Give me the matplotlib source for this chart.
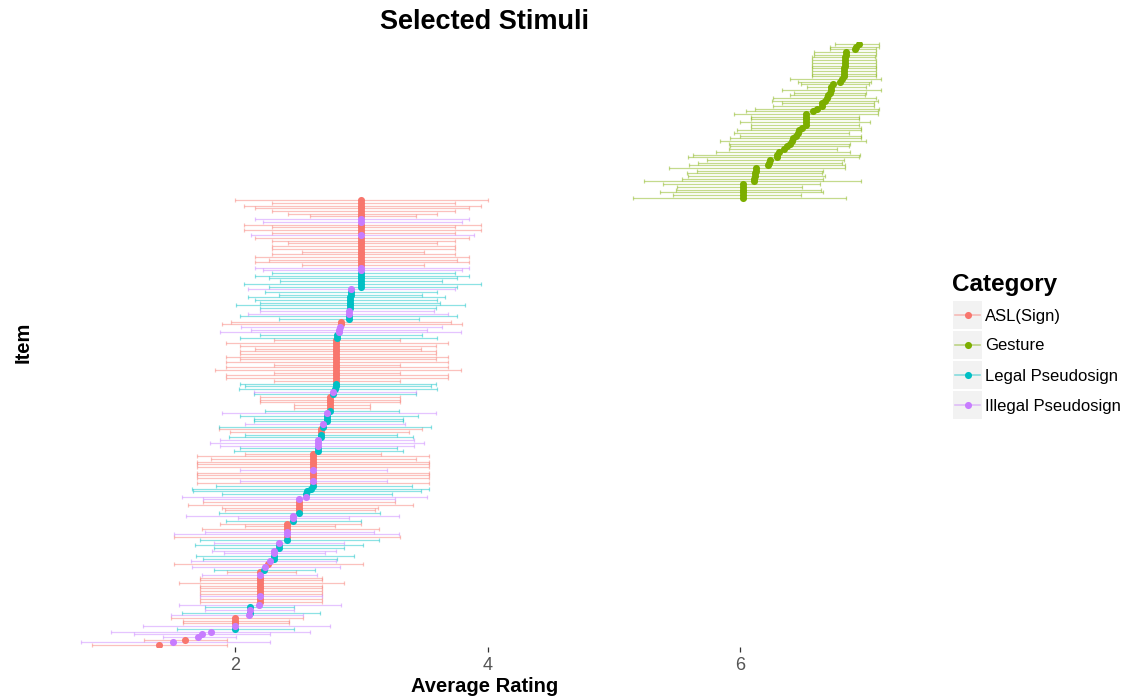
import numpy as np
import matplotlib
matplotlib.use("Agg")
import matplotlib.pyplot as plt
from matplotlib.patches import Rectangle

plt.rcParams['font.family'] = ['Liberation Sans', 'DejaVu Sans']

# category colours (ggplot default hue palette)
colors = {"A": "#F8766D", "G": "#7CAE00", "L": "#00BFC4", "I": "#C77CFF"}
legend_codes = ["A", "G", "L", "I"]
legend_labels = ["ASL(Sign)", "Gesture", "Legal Pseudosign", "Illegal Pseudosign"]

# gesture items, listed from the top of the chart downwards
gesture_mean = [6.94, 6.92, 6.91, 6.84, 6.84, 6.83, 6.83, 6.83, 6.83, 6.82,
                6.82, 6.82, 6.82, 6.81, 6.79, 6.74, 6.72, 6.72, 6.71, 6.70,
                6.69, 6.67, 6.65, 6.65, 6.61, 6.58, 6.52, 6.52, 6.52, 6.52,
                6.52, 6.49, 6.47, 6.46, 6.44, 6.42, 6.41, 6.40, 6.37, 6.35,
                6.31, 6.29, 6.29, 6.24, 6.23, 6.22, 6.13, 6.13, 6.12, 6.12,
                6.11, 6.11, 6.02, 6.02, 6.02, 6.02, 6.02, 6.02]
gesture_lo = [6.75, 6.71, 6.71, 6.59, 6.59, 6.57, 6.57, 6.57, 6.57, 6.57,
              6.57, 6.57, 6.57, 6.40, 6.46, 6.48, 6.53, 6.33, 6.43, 6.40,
              6.26, 6.25, 6.33, 6.26, 6.12, 6.05, 5.95, 6.09, 6.09, 6.00,
              6.09, 6.09, 5.98, 5.95, 6.00, 5.92, 5.84, 5.91, 5.92, 5.91,
              5.81, 5.63, 5.59, 5.74, 5.67, 5.60, 5.44, 5.66, 5.58, 5.59,
              5.54, 5.24, 5.39, 5.50, 5.49, 5.37, 5.47, 5.15]
gesture_hi = [7.10, 7.10, 7.08, 7.08, 7.08, 7.07, 7.08, 7.08, 7.08, 7.08,
              7.08, 7.08, 7.08, 7.12, 7.04, 7.02, 7.00, 7.12, 7.00, 6.99,
              7.08, 7.09, 7.06, 7.06, 7.10, 7.09, 7.09, 6.94, 6.94, 7.03,
              6.94, 6.96, 6.96, 6.86, 6.96, 6.96, 7.00, 6.87, 6.86, 6.77,
              6.87, 6.95, 6.94, 6.82, 6.81, 6.83, 6.83, 6.66, 6.65, 6.67,
              6.66, 6.96, 6.63, 6.49, 6.64, 6.66, 6.48, 6.84]

# sign / pseudosign items, listed from the top downwards
other_cat = list("AAAAAAAIIAAAAIAAAAAAAAAAAIILLLLLLILLLLLLLIILLAAIIILL"
                 "AAAAAAAAAAAAAAAALLLILAAAAALILLLILAALLIIILLAAAAAAIAAAIA"
                 "LLLLIIAAAALIILAAAIIALILLIILLIAILAIAAAAAAAIAAILILIAAAIL"
                 "IIIAIA")
other_mean = ([3.0] * 33 + [2.92, 2.92, 2.92] + [2.91] * 5 + [2.90] * 4
              + [2.84, 2.84, 2.83, 2.82, 2.82, 2.81, 2.81] + [2.80] * 18
              + [2.79, 2.78, 2.78] + [2.75] * 6 + [2.73] * 4 + [2.70, 2.70]
              + [2.68] * 4 + [2.66] * 5 + [2.62] * 13 + [2.60, 2.57, 2.56, 2.56]
              + [2.51] * 6 + [2.46] * 3 + [2.41] * 7 + [2.35] * 3 + [2.31] * 4
              + [2.28, 2.26, 2.24, 2.23] + [2.20] * 12 + [2.19]
              + [2.12, 2.12, 2.12, 2.11] + [2.0] * 5
              + [1.81, 1.74, 1.71, 1.60, 1.51, 1.40])
other_lo = [2.00, 2.29, 2.07, 2.16, 2.29, 2.42, 2.59, 2.16, 2.22, 2.07,
            2.29, 2.07, 2.29, 2.13, 2.16, 2.29, 2.42, 2.29, 2.29, 2.53,
            2.29, 2.16, 2.27, 2.16, 2.53, 2.16, 2.22, 2.29, 2.16, 2.27,
            2.36, 2.07, 2.27, 2.10, 2.24, 2.35, 2.10, 2.16, 2.20, 2.01,
            2.20, 2.20, 2.10, 2.04, 2.35, 1.97, 1.90, 2.05, 2.13, 1.88,
            2.20, 2.04, 2.31, 1.93, 2.04, 2.16, 2.04, 2.04, 1.93, 2.04,
            1.93, 2.31, 1.93, 1.84, 2.31, 1.93, 1.93, 2.31, 2.04, 2.08,
            2.03, 2.15, 2.15, 2.20, 2.20, 2.20, 2.47, 2.47, 2.24, 1.90,
            2.04, 2.15, 2.15, 2.08, 1.87, 1.87, 1.96, 2.08, 1.95, 1.88,
            1.80, 1.88, 2.04, 1.99, 2.08, 1.70, 1.81, 1.70, 1.70, 1.70,
            2.04, 1.70, 1.70, 1.70, 2.04, 1.70, 1.85, 1.66, 1.67, 1.90,
            1.58, 1.75, 1.75, 1.63, 1.90, 1.92, 1.87, 1.61, 2.02, 1.93,
            1.88, 2.08, 1.74, 1.76, 1.52, 1.52, 1.72, 1.83, 1.68, 1.83,
            1.82, 1.91, 1.69, 1.75, 1.65, 1.52, 1.66, 1.83, 1.94, 1.74,
            1.72, 1.72, 1.56, 1.72, 1.72, 1.72, 1.72, 1.72, 1.72, 1.72,
            1.56, 1.76, 1.76, 1.58, 1.49, 1.49, 1.59, 1.59, 1.27, 1.54,
            1.02, 1.20, 1.43, 1.28, 0.78, 0.87]
other_hi = [4.00, 3.74, 3.95, 3.85, 3.74, 3.60, 3.43, 3.85, 3.80, 3.95,
            3.74, 3.95, 3.74, 3.89, 3.85, 3.74, 3.60, 3.74, 3.74, 3.50,
            3.74, 3.85, 3.76, 3.85, 3.50, 3.85, 3.80, 3.74, 3.85, 3.76,
            3.64, 3.95, 3.76, 3.74, 3.60, 3.48, 3.66, 3.60, 3.62, 3.82,
            3.59, 3.58, 3.69, 3.76, 3.46, 3.71, 3.80, 3.64, 3.52, 3.79,
            3.48, 3.60, 3.31, 3.69, 3.59, 3.47, 3.59, 3.59, 3.69, 3.59,
            3.69, 3.31, 3.69, 3.79, 3.31, 3.69, 3.69, 3.31, 3.59, 3.55,
            3.60, 3.43, 3.43, 3.31, 3.31, 3.31, 3.07, 3.07, 3.30, 3.59,
            3.45, 3.33, 3.33, 3.35, 3.55, 3.48, 3.38, 3.28, 3.41, 3.42,
            3.50, 3.42, 3.28, 3.33, 3.16, 3.54, 3.43, 3.54, 3.54, 3.54,
            3.20, 3.54, 3.54, 3.54, 3.20, 3.54, 3.40, 3.54, 3.47, 3.24,
            3.52, 3.27, 3.27, 3.41, 3.13, 3.11, 3.15, 3.30, 2.90, 3.00,
            3.00, 2.79, 3.14, 3.10, 3.30, 3.31, 3.14, 2.86, 3.01, 2.86,
            2.80, 2.71, 2.94, 2.81, 2.80, 3.01, 2.83, 2.63, 2.48, 2.65,
            2.69, 2.69, 2.86, 2.69, 2.69, 2.69, 2.69, 2.69, 2.69, 2.69,
            2.84, 2.47, 2.47, 2.67, 2.54, 2.54, 2.43, 2.43, 2.75, 2.47,
            2.59, 2.28, 2.01, 1.94, 2.28, 1.94]

# stack everything bottom-up so item 1 sits at the bottom
cat = np.array((["G"] * len(gesture_mean) + other_cat)[::-1])
mean = np.array((gesture_mean + other_mean)[::-1])
lo = np.array((gesture_lo + other_lo)[::-1])
hi = np.array((gesture_hi + other_hi)[::-1])
ypos = np.arange(1, len(mean) + 1)

fig = plt.figure(figsize=(11.37, 7.0), dpi=100)
W, H = 1137, 700
ax = fig.add_axes([41 / W, 1 - 646.6 / H, 880.4 / W, 604.2 / H])

for c in legend_codes:
    m = cat == c
    ax.errorbar(mean[m], ypos[m], xerr=[mean[m] - lo[m], hi[m] - mean[m]],
                fmt="none", ecolor=colors[c], alpha=0.45, elinewidth=0.9,
                capsize=1.6, capthick=0.9)
for c in legend_codes:
    m = cat == c
    ax.scatter(mean[m], ypos[m], s=26, color=colors[c], zorder=3,
               linewidths=0)

ax.set_xlim(0.463, 7.437)
ax.set_ylim(0.4, len(mean) + 0.6)
ax.set_xticks([2, 4, 6])
ax.set_yticks([])
ax.tick_params(axis="x", length=3.5, width=0.9, color="#333333",
               labelcolor="#555555", labelsize=13, pad=4)
for s in ax.spines.values():
    s.set_visible(False)

fig.text(485 / W, 1 - 22 / H, "Selected Stimuli", ha="center", va="center",
         fontsize=19.5, fontweight="bold")
fig.text(485 / W, 1 - 686 / H, "Average Rating", ha="center", va="center",
         fontsize=14.5, fontweight="bold")
fig.text(23 / W, 1 - 342 / H, "Item", ha="center", va="center",
         fontsize=14.5, fontweight="bold", rotation=90)

# legend drawn in pixel coordinates
lg = fig.add_axes([0, 0, 1, 1], facecolor="none")
lg.set_xlim(0, W)
lg.set_ylim(H, 0)
lg.axis("off")
lg.text(952, 285, "Category", ha="left", va="center", fontsize=17.5,
        fontweight="bold")
for k, (c, lab) in enumerate(zip(legend_codes, legend_labels)):
    yc = 315 + 30 * k
    lg.add_patch(Rectangle((953, yc - 14), 29, 28, facecolor="#F2F2F2",
                           edgecolor="none"))
    lg.plot([955, 980], [yc, yc], color=colors[c], alpha=0.45, lw=1.2)
    lg.scatter([967.5], [yc], s=26, color=colors[c], linewidths=0, zorder=3)
    lg.text(985, yc + 1, lab, ha="left", va="center", fontsize=12)

fig.savefig("out.png", dpi=100)
